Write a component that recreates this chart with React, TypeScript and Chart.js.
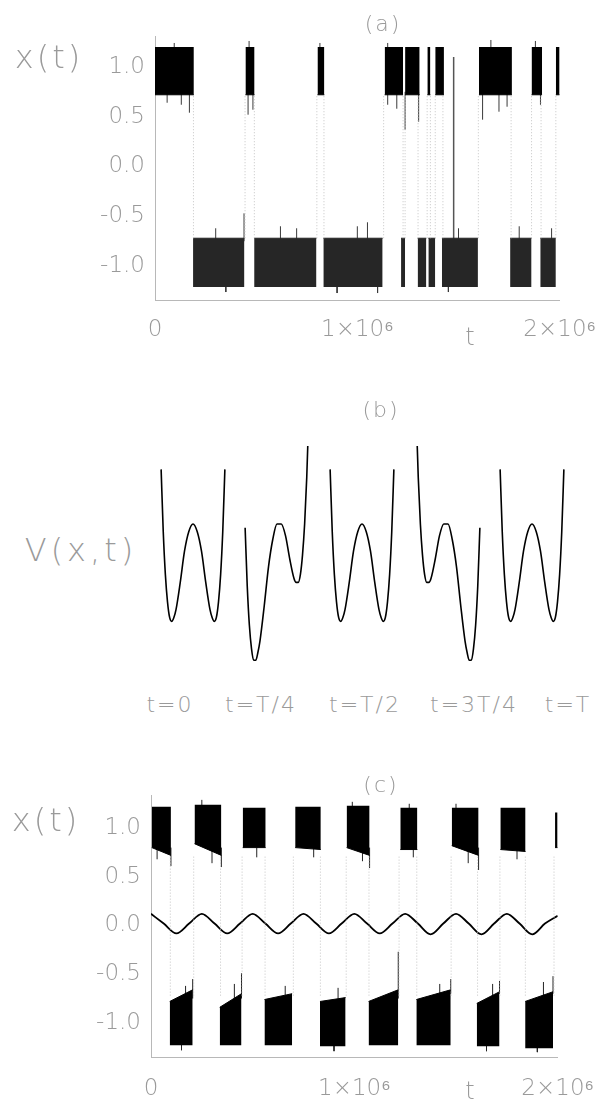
import React, { useEffect, useRef } from "react";
import { Chart, registerables } from "chart.js";

Chart.register(...registerables);

const FONT = "'DejaVu Sans', 'Liberation Sans', sans-serif";
const TEXT = "#9a9a9a";

// ---------- Panel (a): x(t) with noise only ----------
const aUpperIntervals: [number, number][] = [
  [0, 192000], [447000, 492000], [803000, 837000], [1135000, 1226000], [1236000, 1308000],
  [1346000, 1361000], [1385000, 1428000], [1601000, 1764000], [1861000, 1913000], [1981000, 2000000],
];
const aLowerIntervals: [number, number][] = [
  [188000, 442000], [490000, 798000], [832000, 1125000], [1216000, 1236000], [1298000, 1341000],
  [1351000, 1385000], [1418000, 1596000], [1755000, 1861000], [1904000, 1981000],
];
const aUpperBand: [number, number] = [0.72, 1.2];
const aLowerBand: [number, number] = [-0.72, -1.21];
const aTransitions = [
  190000, 445000, 491000, 800000, 835000, 1130000, 1226000, 1236000, 1300000, 1345000,
  1361000, 1385000, 1423000, 1598000, 1760000, 1861000, 1908000, 1981000,
];
const aSpikes: [number, number, number][] = [
  [170000, 0.54, 0.75], [440000, -0.75, -0.47], [460000, 0.52, 0.75], [484000, 0.57, 0.75],
  [1236000, 0.37, 0.75], [1303000, 0.45, 0.75], [1619000, 0.47, 0.75], [1195000, 0.58, 0.75],
  [1700000, 0.55, 0.75], [1740000, 0.6, 0.75], [60000, 0.64, 0.75], [130000, 0.62, 0.75],
  [1150000, 0.62, 0.75], [1905000, 0.62, 0.75],
  [95000, 1.18, 1.24], [465000, 1.18, 1.26], [815000, 1.18, 1.24], [1660000, 1.18, 1.27],
  [1880000, 1.18, 1.26], [1150000, 1.18, 1.24],
  [300000, -0.75, -0.62], [620000, -0.75, -0.6], [700000, -0.75, -0.62], [1000000, -0.75, -0.6],
  [1050000, -0.75, -0.56], [1500000, -0.75, -0.62], [1800000, -0.75, -0.6], [1960000, -0.75, -0.62],
  [350000, -1.19, -1.26], [900000, -1.19, -1.27], [1100000, -1.19, -1.27], [1450000, -1.19, -1.26],
];
const aExcursion: [number, number, number][] = [[1476000, -0.8, 1.1]];
const aYRange: [number, number] = [-1.34, 1.31];

// ---------- Panel (c): x(t) with periodic forcing ----------
// [tStart, tEnd, innerEdgeStart, innerEdgeEnd, outerEdge]
const cUpperBlocks: [number, number, number, number, number][] = [
  [4000, 98000, 0.8, 0.72, 1.22],
  [214000, 346000, 0.84, 0.72, 1.24],
  [451000, 564000, 0.8, 0.8, 1.21],
  [709000, 835000, 0.8, 0.78, 1.22],
  [962000, 1075000, 0.8, 0.72, 1.23],
  [1226000, 1310000, 0.78, 0.78, 1.21],
  [1479000, 1611000, 0.82, 0.72, 1.21],
  [1718000, 1842000, 0.78, 0.76, 1.21],
  [1987000, 2000000, 0.8, 0.8, 1.16],
];
const cLowerBlocks: [number, number, number, number, number][] = [
  [92000, 205000, -0.78, -0.66, -1.23],
  [338000, 445000, -0.84, -0.7, -1.23],
  [558000, 694000, -0.76, -0.7, -1.23],
  [831000, 957000, -0.78, -0.74, -1.24],
  [1070000, 1216000, -0.78, -0.66, -1.23],
  [1305000, 1474000, -0.76, -0.66, -1.23],
  [1602000, 1714000, -0.8, -0.68, -1.24],
  [1840000, 1977000, -0.78, -0.68, -1.26],
];
const cTransitions = [
  95000, 210000, 342000, 448000, 561000, 700000, 833000, 960000, 1072000, 1220000,
  1307000, 1476000, 1606000, 1716000, 1841000, 1982000,
];
const cSpikes: [number, number, number][] = [
  [205000, -0.75, -0.55], [445000, -0.75, -0.49], [1216000, -0.75, -0.27], [1474000, -0.7, -0.55],
  [1714000, -0.7, -0.57], [1977000, -0.7, -0.52], [98000, 0.61, 0.8], [346000, 0.6, 0.8],
  [1075000, 0.59, 0.8], [1611000, 0.57, 0.8],
  [30000, 0.68, 0.8], [300000, 0.64, 0.8], [520000, 0.7, 0.8], [800000, 0.7, 0.8],
  [1040000, 0.66, 0.8], [1560000, 0.64, 0.8], [1800000, 0.68, 0.8], [1290000, 0.7, 0.8],
  [250000, 1.2, 1.29], [990000, 1.2, 1.27], [1270000, 1.2, 1.25], [1500000, 1.2, 1.25],
  [170000, -0.75, -0.62], [410000, -0.75, -0.6], [660000, -0.75, -0.62], [920000, -0.75, -0.64],
  [1420000, -0.75, -0.6], [1680000, -0.75, -0.6], [1930000, -0.75, -0.58],
  [150000, -1.2, -1.28], [900000, -1.2, -1.29], [1650000, -1.2, -1.29], [1900000, -1.2, -1.3],
];
const cSineT = [
  0, 62500, 125000, 187500, 250000, 312500, 375000, 437500, 500000, 562500, 625000,
  687500, 750000, 812500, 875000, 937500, 1000000, 1062500, 1125000, 1187500, 1250000,
  1312500, 1375000, 1437500, 1500000, 1562500, 1625000, 1687500, 1750000, 1812500,
  1875000, 1937500, 2000000,
];
const cSineV = [
  0.12, 0.02, -0.08, 0.02, 0.12, 0.02, -0.08, 0.02, 0.12, 0.02, -0.08,
  0.02, 0.12, 0.02, -0.08, 0.02, 0.12, 0.02, -0.08, 0.02, 0.12,
  0.02, -0.09, 0.02, 0.12, 0.02, -0.09, 0.02, 0.12, 0.02,
  -0.09, 0.02, 0.1,
];
const cYRange: [number, number] = [-1.35, 1.34];

// ---------- Shared tick values ----------
const yTickValues = [-1, -0.5, 0, 0.5, 1];
const xTickValues = [0, 1000000, 2000000];
const xTickLabels = ["0", "1×10⁶", "2×10⁶"];

// ---------- Panel (b): potentials V(x,t) ----------
const bX = [-1.5, -1.4, -1.3, -1.2, -1.1, -1.0, -0.9, -0.8, -0.6, -0.4, -0.2, 0, 0.2, 0.4, 0.6, 0.8, 0.9, 1.0, 1.1, 1.2, 1.3, 1.4, 1.5];
const bV_t0 = [0.14, -0.02, -0.13, -0.2, -0.24, -0.25, -0.24, -0.22, -0.15, -0.07, -0.02, 0, -0.02, -0.07, -0.15, -0.22, -0.24, -0.25, -0.24, -0.2, -0.13, -0.02, 0.14];
const bV_tQ = [-0.01, -0.16, -0.26, -0.32, -0.35, -0.35, -0.33, -0.3, -0.21, -0.11, -0.04, 0, 0.0, -0.03, -0.09, -0.14, -0.15, -0.15, -0.13, -0.08, 0.0, 0.12, 0.29];
const bV_tH = [0.14, -0.02, -0.13, -0.2, -0.24, -0.25, -0.24, -0.22, -0.15, -0.07, -0.02, 0, -0.02, -0.07, -0.15, -0.22, -0.24, -0.25, -0.24, -0.2, -0.13, -0.02, 0.14];
const bV_t3Q = [0.29, 0.12, 0.0, -0.08, -0.13, -0.15, -0.15, -0.14, -0.09, -0.03, 0.0, 0, -0.04, -0.11, -0.21, -0.3, -0.33, -0.35, -0.35, -0.32, -0.26, -0.16, -0.01];
const bV_tT = [0.14, -0.02, -0.13, -0.2, -0.24, -0.25, -0.24, -0.22, -0.15, -0.07, -0.02, 0, -0.02, -0.07, -0.15, -0.22, -0.24, -0.25, -0.24, -0.2, -0.13, -0.02, 0.14];
const bCurves = [bV_t0, bV_tQ, bV_tH, bV_t3Q, bV_tT];
const bLabels = ["t=0", "t=T/4", "t=T/2", "t=3T/4", "t=T"];

// layout (pixels)
const bCanvasLeft = [159, 243, 328, 414, 498];
const bLabelCenter = [170, 261, 365, 474, 568];

function blockDs(t0: number, t1: number, in0: number, in1: number, outer: number, color: string) {
  return {
    data: [{ x: t0, y: in0 }, { x: t1, y: in1 }],
    borderColor: color,
    backgroundColor: color,
    borderWidth: 1,
    pointRadius: 0,
    tension: 0,
    fill: { value: outer },
  };
}

function segDs(segs: [number, number, number][], color: string, width: number, dash: number[] = []) {
  const data: { x: number; y: number | null }[] = [];
  segs.forEach(([t, y0, y1]) => {
    data.push({ x: t, y: y0 }, { x: t, y: y1 }, { x: t, y: null });
  });
  return {
    data,
    borderColor: color,
    borderWidth: width,
    borderDash: dash,
    pointRadius: 0,
    spanGaps: false,
    fill: false,
  };
}

function timeConfig(datasets: any[], yRange: [number, number], padTop: number, padRight: number, yWidth: number, xHeight: number, xPad: number): any {
  const tickFont = { family: FONT, size: 23, weight: "200" as any };
  return {
    type: "line",
    data: { datasets },
    options: {
      responsive: false,
      animation: false,
      events: [],
      layout: { padding: { top: padTop, right: padRight, left: 0, bottom: 0 } },
      plugins: { legend: { display: false }, tooltip: { enabled: false }, title: { display: false } },
      scales: {
        x: {
          type: "linear",
          min: 0,
          max: 2000000,
          afterFit: (s: any) => { s.height = xHeight; },
          afterBuildTicks: (s: any) => { s.ticks = xTickValues.map((v) => ({ value: v })); },
          ticks: {
            callback: (_v: any, i: number) => xTickLabels[i],
            font: tickFont,
            color: TEXT,
            padding: xPad,
            autoSkip: false,
            maxRotation: 0,
          },
          grid: { display: false, drawTicks: false },
          border: { display: true, color: "#b8b8b8", width: 1, dash: [1, 2] },
        },
        y: {
          type: "linear",
          min: yRange[0],
          max: yRange[1],
          afterFit: (s: any) => { s.width = yWidth; },
          afterBuildTicks: (s: any) => { s.ticks = yTickValues.map((v) => ({ value: v })); },
          ticks: {
            callback: (v: any) => Number(v).toFixed(1),
            font: tickFont,
            color: TEXT,
            padding: 10,
            autoSkip: false,
          },
          grid: { display: false, drawTicks: false },
          border: { display: true, color: "#b8b8b8", width: 1, dash: [1, 2] },
        },
      },
    },
  };
}

function potentialConfig(values: number[]): any {
  return {
    type: "line",
    data: {
      datasets: [
        {
          data: bX.map((x, i) => ({ x, y: values[i] })),
          borderColor: "#000",
          borderWidth: 1.6,
          pointRadius: 0,
          cubicInterpolationMode: "monotone",
          fill: false,
        },
      ],
    },
    options: {
      responsive: false,
      animation: false,
      events: [],
      layout: { padding: 0 },
      plugins: { legend: { display: false }, tooltip: { enabled: false } },
      scales: {
        x: { type: "linear", display: false, min: -1.6, max: 1.6 },
        y: { type: "linear", display: false, min: -0.38, max: 0.2 },
      },
    },
  };
}

function Txt(props: { x: number; y: number; text: string; size: number; ls?: number }) {
  return (
    <span
      style={{
        position: "absolute",
        left: props.x,
        top: props.y,
        transform: "translate(-50%, -50%)",
        whiteSpace: "nowrap",
        fontFamily: FONT,
        fontWeight: 200,
        fontSize: props.size,
        letterSpacing: props.ls ?? 0,
        color: TEXT,
        lineHeight: 1,
      }}
    >
      {props.text}
    </span>
  );
}

export default function App() {
  const aRef = useRef<HTMLCanvasElement>(null);
  const cRef = useRef<HTMLCanvasElement>(null);
  const bRefs = useRef<(HTMLCanvasElement | null)[]>([]);

  useEffect(() => {
    const charts: Chart[] = [];

    const aDatasets: any[] = [
      segDs(aTransitions.map((t) => [t, aLowerBand[0], aUpperBand[0]] as [number, number, number]), "#c4c4c4", 1, [1, 2]),
      ...aUpperIntervals.map(([t0, t1]) => blockDs(t0, t1, aUpperBand[0], aUpperBand[0], aUpperBand[1], "#000")),
      ...aLowerIntervals.map(([t0, t1]) => blockDs(t0, t1, aLowerBand[0], aLowerBand[0], aLowerBand[1], "#262626")),
      segDs(aSpikes, "#3a3a3a", 1),
      segDs(aExcursion, "#555", 1.5),
    ];
    charts.push(new Chart(aRef.current!, timeConfig(aDatasets, aYRange, 36, 41, 155, 50, 16)));

    bCurves.forEach((vals, i) => {
      const cv = bRefs.current[i];
      if (cv) charts.push(new Chart(cv, potentialConfig(vals)));
    });

    const cDatasets: any[] = [
      segDs(cTransitions.map((t) => [t, -0.72, 0.72] as [number, number, number]), "#c4c4c4", 1, [1, 2]),
      ...cUpperBlocks.map(([t0, t1, i0, i1, o]) => blockDs(t0, t1, i0, i1, o, "#000")),
      ...cLowerBlocks.map(([t0, t1, i0, i1, o]) => blockDs(t0, t1, i0, i1, o, "#000")),
      segDs(cSpikes, "#222", 1),
      {
        data: cSineT.map((t, i) => ({ x: t, y: cSineV[i] })),
        borderColor: "#000",
        borderWidth: 1.8,
        pointRadius: 0,
        cubicInterpolationMode: "monotone",
        fill: false,
      },
    ];
    charts.push(new Chart(cRef.current!, timeConfig(cDatasets, cYRange, 35, 45, 151, 46, 18)));

    return () => charts.forEach((c) => c.destroy());
  }, []);

  return (
    <div style={{ position: "absolute", left: 0, top: 0, width: 612, height: 1103, background: "#fff", overflow: "hidden" }}>
      <canvas ref={aRef} width={612} height={350} style={{ position: "absolute", left: 0, top: 0 }} />
      {bCurves.map((_, i) => (
        <canvas
          key={i}
          ref={(el) => { bRefs.current[i] = el; }}
          width={68}
          height={226}
          style={{ position: "absolute", left: bCanvasLeft[i], top: 446 }}
        />
      ))}
      <canvas ref={cRef} width={612} height={343} style={{ position: "absolute", left: 0, top: 760 }} />

      <Txt x={383} y={24} text="(a)" size={22} ls={2} />
      <Txt x={49} y={57} text="x(t)" size={32} ls={3} />
      <Txt x={470} y={337} text="t" size={24} />

      <Txt x={381} y={410} text="(b)" size={22} ls={2} />
      <Txt x={81} y={550} text="V(x,t)" size={32} ls={4} />
      {bLabels.map((l, i) => (
        <Txt key={l} x={bLabelCenter[i]} y={705} text={l} size={22} ls={2} />
      ))}

      <Txt x={381} y={785} text="(c)" size={22} ls={2} />
      <Txt x={46} y={820} text="x(t)" size={32} ls={3} />
      <Txt x={470} y={1091} text="t" size={24} />
    </div>
  );
}
